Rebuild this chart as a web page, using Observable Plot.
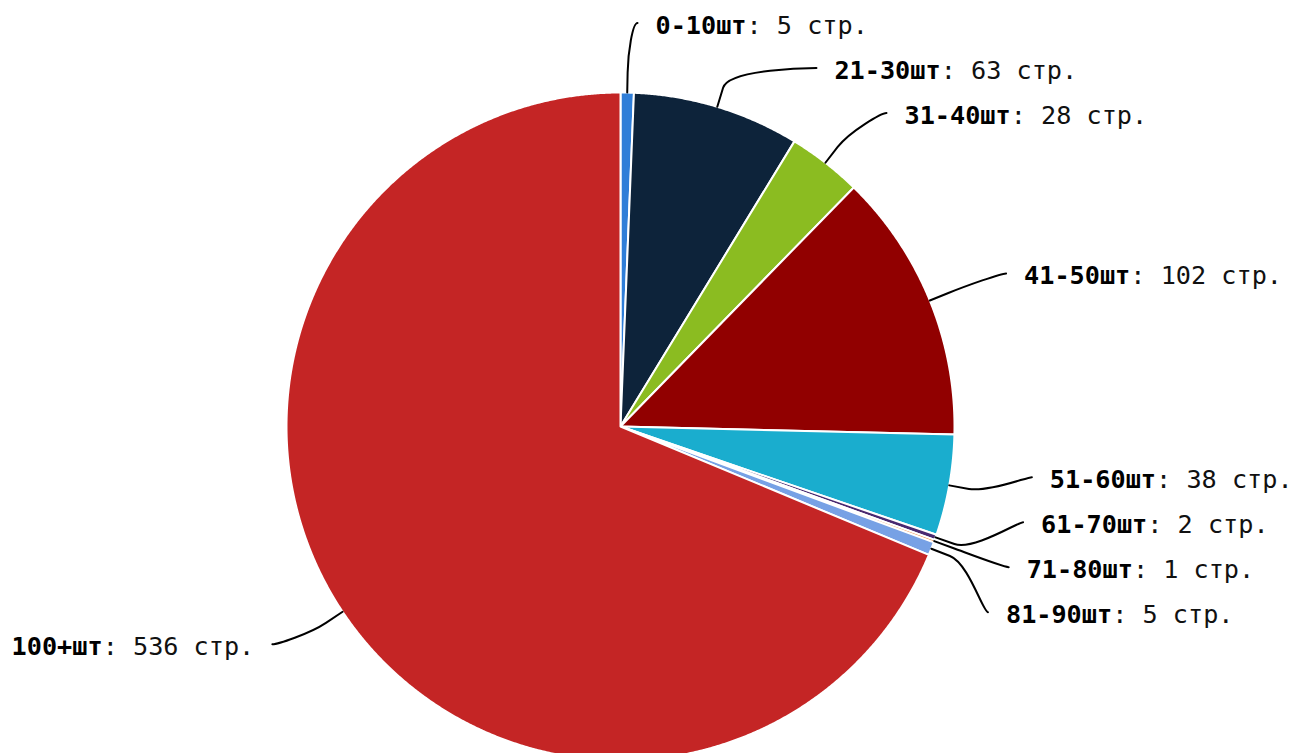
<!DOCTYPE html>
<html>
<head>
<meta charset="utf-8">
<script src="https://cdn.jsdelivr.net/npm/d3@7"></script>
<script src="https://cdn.jsdelivr.net/npm/@observablehq/plot@0.6"></script>
<style>
  html, body { margin: 0; padding: 0; background: #fff; }
  #chart { width: 1299px; height: 753px; overflow: hidden; }
</style>
</head>
<body>
<div id="chart"></div>
<script>
// ---- data ----
const categories = ["0-10шт", "21-30шт", "31-40шт", "41-50шт", "51-60шт", "61-70шт", "71-80шт", "81-90шт", "100+шт"];
const values = [5, 63, 28, 102, 38, 2, 1, 5, 536];
const unit = " стр.";
const colors = ["#2f7ed8", "#0d233a", "#8bbc21", "#910000", "#1aadce", "#492970", "#f28f43", "#77a1e5", "#c42525"];

// ---- layout ----
const W = 1299, H = 753;
const cx = 620, cy = 426, r = 334;
const labelDy = -3;            // label circle centre offset from pie centre
const labelR = 398, slot = 45, endPad = 17, textGap = 18;
const breakR = r + 20, ctrlR = r + 40, softOff = 5;
const fontSize = 25.2, charW = 0.60205 * fontSize;

const arcs = d3.pie().sort(null).value(d => d)(values);

// slice outlines
const slicePts = [];
arcs.forEach((a, i) => {
  const n = Math.max(3, Math.ceil((a.endAngle - a.startAngle) / (Math.PI / 720)));
  slicePts.push({name: categories[i], x: 0, y: 0});
  for (let k = 0; k <= n; k++) {
    const t = a.startAngle + (a.endAngle - a.startAngle) * k / n;
    slicePts.push({name: categories[i], x: r * Math.sin(t), y: -r * Math.cos(t)});
  }
});

// labels: natural position then distribute on each side
const items = arcs.map((a, i) => {
  const m = (a.startAngle + a.endAngle) / 2;
  return {i, name: categories[i], value: values[i], m, right: m < Math.PI, target: labelDy - labelR * Math.cos(m)};
});

function distribute(list, minY, maxY, size) {
  list.sort((a, b) => a.target - b.target);
  const place = g => {
    const n = g.items.length;
    let s = d3.mean(g.items, d => d.target) - (n - 1) * size / 2;
    s = Math.max(minY + size / 2, Math.min(s, maxY - size / 2 - (n - 1) * size));
    g.start = s;
  };
  let groups = list.map(d => ({items: [d]}));
  groups.forEach(place);
  let changed = true;
  while (changed) {
    changed = false;
    for (let k = 1; k < groups.length; k++) {
      const a = groups[k - 1], b = groups[k];
      if (a.start + a.items.length * size > b.start) {
        const g = {items: a.items.concat(b.items)};
        place(g);
        groups.splice(k - 1, 2, g);
        changed = true;
        break;
      }
    }
  }
  groups.forEach(g => g.items.forEach((d, j) => d.y = g.start + j * size));
}
distribute(items.filter(d => d.right), -cy, H - cy, slot);
distribute(items.filter(d => !d.right), -cy, H - cy, slot);

const connRows = [];
items.forEach(d => {
  const side = d.right ? 1 : -1;
  const s = Math.max(-1, Math.min(1, (d.y - labelDy) / labelR));
  d.xEnd = side * (Math.cos(Math.asin(s)) * labelR + endPad);
  const valText = ": " + d.value + unit;
  d.valText = valText;
  const total = d.name.length + valText.length;
  d.xStart = d.right ? d.xEnd + textGap : d.xEnd - textGap - total * charW;
  d.xVal = d.xStart + d.name.length * charW;
  const sm = Math.sin(d.m), cm = Math.cos(d.m);
  const pts = [
    [d.xEnd, d.y],
    [d.xEnd - side * softOff, d.y],
    [ctrlR * sm, -ctrlR * cm],
    [breakR * sm, -breakR * cm],
    [r * sm, -r * cm]
  ];
  pts.forEach(([x, y], k) => connRows.push({name: d.name, k, x, y}));
});

// custom curve: M p0 C p1 p2 p3 L p4
function connectorCurve(context) {
  let pts;
  return {
    areaStart() {}, areaEnd() {},
    lineStart() { pts = []; },
    point(x, y) { pts.push([+x, +y]); },
    lineEnd() {
      const [p0, p1, p2, p3, p4] = pts;
      context.moveTo(p0[0], p0[1]);
      context.bezierCurveTo(p1[0], p1[1], p2[0], p2[1], p3[0], p3[1]);
      context.lineTo(p4[0], p4[1]);
    }
  };
}

const chart = Plot.plot({
  width: W,
  height: H,
  margin: 0,
  x: {domain: [-r, r], range: [cx - r, cx + r], axis: null},
  y: {domain: [-r, r], range: [cy - r, cy + r], axis: null},
  color: {domain: categories, range: colors},
  style: {fontFamily: "'DejaVu Sans Mono', monospace", fontSize: fontSize + "px", background: "#fff"},
  marks: [
    Plot.line(slicePts, {x: "x", y: "y", z: "name", fill: "name", stroke: "#fff", strokeWidth: 2, strokeLinejoin: "round", curve: "linear-closed"}),
    Plot.line(connRows, {x: "x", y: "y", z: "name", stroke: "#000", strokeWidth: 2, curve: connectorCurve}),
    Plot.text(items, {x: "xStart", y: "y", text: "name", textAnchor: "start", lineAnchor: "middle", dy: 3, fontWeight: "bold", fill: "#000"}),
    Plot.text(items, {x: "xVal", y: "y", text: "valText", textAnchor: "start", lineAnchor: "middle", dy: 3, fill: "#111"})
  ]
});
document.getElementById("chart").appendChild(chart);
</script>
</body>
</html>
